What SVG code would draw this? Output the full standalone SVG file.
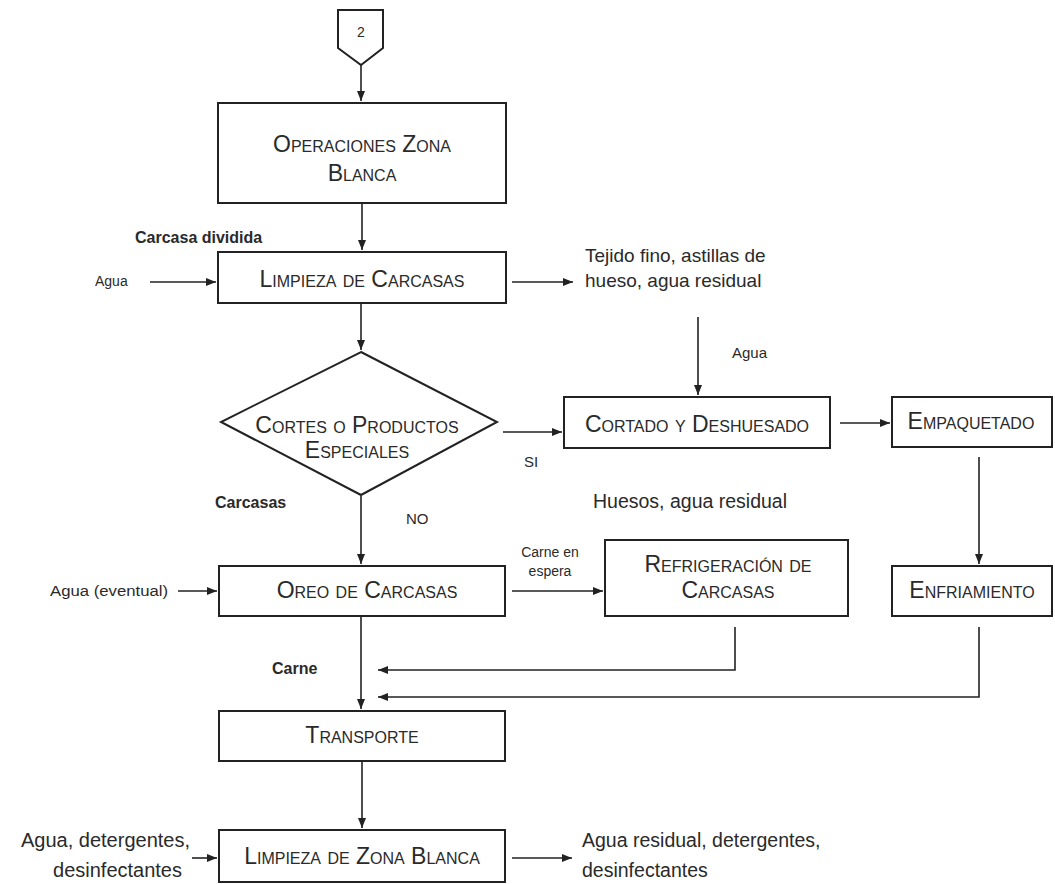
<svg xmlns="http://www.w3.org/2000/svg" width="1055" height="884" viewBox="0 0 1055 884">
<style>
.box{fill:#fff;stroke:#222;stroke-width:2}
.sc{font-family:"Liberation Sans",Arial,sans-serif;font-size:23px;font-variant:small-caps;fill:#2a2a2a;text-anchor:middle}
.lbl{font-family:"Liberation Sans",Arial,sans-serif;fill:#2a2a2a}
.b{font-weight:bold}
.con path{fill:none;stroke:#222;stroke-width:1.6}
</style>
<defs>
<marker id="ah" markerUnits="userSpaceOnUse" markerWidth="10" markerHeight="8" refX="10" refY="4" orient="auto">
<path d="M0,0 L10,4 L0,8 z" fill="#222"/>
</marker>
</defs>
<rect width="1055" height="884" fill="#fff"/>

<g id="conector">
<polygon class="box" points="338,10 383,10 383,48 361,65 338,48"/>
<text class="lbl" x="361" y="37" font-size="14" text-anchor="middle">2</text>
</g>

<g id="operaciones">
<rect class="box" x="218" y="103" width="288" height="100"/>
<text class="sc" x="362" y="152">Operaciones Zona</text>
<text class="sc" x="362" y="181">Blanca</text>
</g>

<g id="limpieza">
<rect class="box" x="218" y="252" width="288" height="51"/>
<text class="sc" x="362" y="287">Limpieza de Carcasas</text>
</g>

<g id="decision">
<polygon class="box" points="361,352 497,422 361,495 221,422"/>
<text class="sc" x="357" y="433">Cortes o Productos</text>
<text class="sc" x="357" y="458">Especiales</text>
</g>

<g id="cortado">
<rect class="box" x="564" y="397" width="266" height="51"/>
<text class="sc" x="697" y="432">Cortado y  Deshuesado</text>
</g>

<g id="empaquetado">
<rect class="box" x="892" y="397" width="160" height="50"/>
<text class="sc" x="971" y="429">Empaquetado</text>
</g>

<g id="oreo">
<rect class="box" x="219" y="566" width="286" height="50"/>
<text class="sc" x="367" y="598">Oreo de Carcasas</text>
</g>

<g id="refrigeracion">
<rect class="box" x="605" y="540" width="243" height="76"/>
<text class="sc" x="728" y="572">Refrigeración de</text>
<text class="sc" x="728" y="598">Carcasas</text>
</g>

<g id="enfriamiento">
<rect class="box" x="892" y="566" width="160" height="50"/>
<text class="sc" x="972" y="598">Enfriamiento</text>
</g>

<g id="transporte">
<rect class="box" x="219" y="711" width="286" height="50"/>
<text class="sc" x="362" y="743">Transporte</text>
</g>

<g id="limpiezazona">
<rect class="box" x="219" y="830" width="286" height="52"/>
<text class="sc" x="362" y="864">Limpieza de Zona Blanca</text>
</g>

<g id="labels">
<text class="lbl b" x="135" y="243" font-size="16">Carcasa dividida</text>
<text class="lbl" x="95" y="286" font-size="14">Agua</text>
<text class="lbl" x="585" y="262" font-size="19">Tejido fino, astillas de</text>
<text class="lbl" x="585" y="287" font-size="19">hueso, agua residual</text>
<text class="lbl" x="732" y="358" font-size="15">Agua</text>
<text class="lbl" x="524" y="467" font-size="15">SI</text>
<text class="lbl" x="593" y="508" font-size="19.5">Huesos, agua residual</text>
<text class="lbl b" x="215" y="508" font-size="16">Carcasas</text>
<text class="lbl" x="406" y="524" font-size="15">NO</text>
<text class="lbl" x="550" y="557" font-size="14" text-anchor="middle">Carne en</text>
<text class="lbl" x="550" y="576" font-size="14" text-anchor="middle">espera</text>
<text class="lbl" x="50" y="596" font-size="14" textLength="118" lengthAdjust="spacingAndGlyphs">Agua (eventual)</text>
<text class="lbl b" x="272" y="674" font-size="16">Carne</text>
<text class="lbl" x="190" y="847" font-size="20" text-anchor="end">Agua, detergentes,</text>
<text class="lbl" x="182" y="877" font-size="20" text-anchor="end">desinfectantes</text>
<text class="lbl" x="582" y="847" font-size="19.5">Agua residual, detergentes,</text>
<text class="lbl" x="582" y="877" font-size="19.5">desinfectantes</text>
</g>

<g id="connectors" class="con">
<path d="M361,65 V101" marker-end="url(#ah)"/>
<path d="M362,203 V250" marker-end="url(#ah)"/>
<path d="M150,282 H216" marker-end="url(#ah)"/>
<path d="M512,282 H573" marker-end="url(#ah)"/>
<path d="M361,303 V350" marker-end="url(#ah)"/>
<path d="M698,317 V395" marker-end="url(#ah)"/>
<path d="M503,432 H562" marker-end="url(#ah)"/>
<path d="M840,423 H890" marker-end="url(#ah)"/>
<path d="M979,457 V564" marker-end="url(#ah)"/>
<path d="M361,496 V564" marker-end="url(#ah)"/>
<path d="M178,591 H217" marker-end="url(#ah)"/>
<path d="M512,591 H603" marker-end="url(#ah)"/>
<path d="M361,617 V709" marker-end="url(#ah)"/>
<path d="M735,627 V670 H378" marker-end="url(#ah)"/>
<path d="M979,627 V697 H378" marker-end="url(#ah)"/>
<path d="M362,762 V828" marker-end="url(#ah)"/>
<path d="M192,858 H217" marker-end="url(#ah)"/>
<path d="M512,858 H572" marker-end="url(#ah)"/>
</g>
</svg>
